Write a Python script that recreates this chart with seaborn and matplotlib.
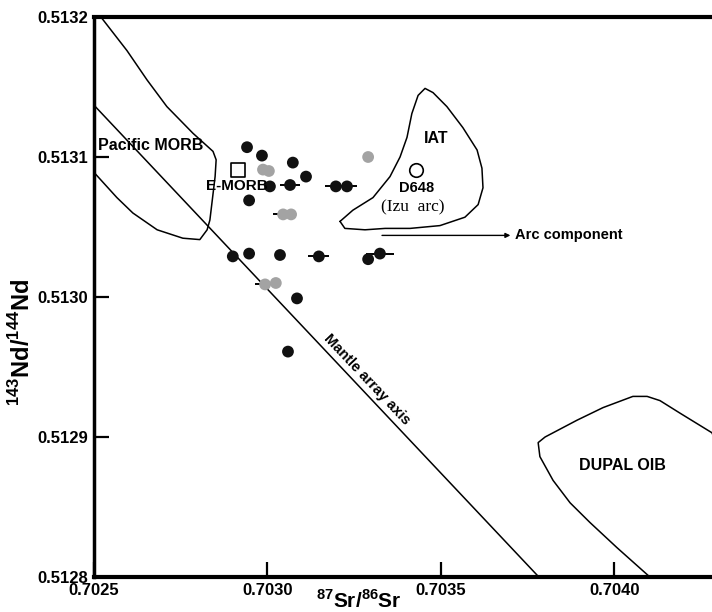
import matplotlib

matplotlib.use("Agg")
import matplotlib.pyplot as plt
import numpy as np
import pandas as pd
import seaborn as sns


# samples (87Sr/86Sr, 143Nd/144Nd)
black_sr = [0.702941, 0.702984, 0.703073, 0.703111, 0.703007, 0.703065, 0.702947, 0.703197, 0.703229,
            0.702900, 0.702947, 0.703036, 0.703148, 0.703290, 0.703324, 0.703085, 0.703059]
black_nd = [0.513107, 0.513101, 0.513096, 0.513086, 0.513079, 0.513080, 0.513069, 0.513079, 0.513079,
            0.513029, 0.513031, 0.513030, 0.513029, 0.513027, 0.513031, 0.512999, 0.512961]
gray_sr = [0.702987, 0.703004, 0.703045, 0.703068, 0.703290, 0.702993, 0.703024]
gray_nd = [0.513091, 0.513090, 0.513059, 0.513059, 0.513100, 0.513009, 0.513010]

# horizontal error bars
err_sr = [0.703065, 0.703197, 0.703229, 0.703148, 0.703324, 0.703045, 0.702993]
err_nd = [0.513080, 0.513079, 0.513079, 0.513029, 0.513031, 0.513059, 0.513009]
err_dx = [0.00003, 0.00003, 0.00003, 0.00003, 0.00004, 0.00003, 0.00003]

# reference points
emorb_sr, emorb_nd = 0.702915, 0.513091
d648_sr, d648_nd = 0.703428, 0.513091

# mantle array axis
mantle_sr = [0.70250, 0.703782]
mantle_nd = [0.513137, 0.512800]

# field outlines
morb_sr = [0.702523, 0.702595, 0.702653, 0.702710, 0.702785, 0.702843, 0.702852, 0.702849, 0.702834,
           0.702826, 0.702805, 0.702756, 0.702682, 0.702612, 0.702566, 0.702500]
morb_nd = [0.513199, 0.513176, 0.513155, 0.513136, 0.513117, 0.513104, 0.513098, 0.513086, 0.513055,
           0.513048, 0.513041, 0.513042, 0.513048, 0.513060, 0.513071, 0.513089]

iat_sr = [0.703209, 0.703223, 0.703281, 0.703339, 0.703411, 0.703497, 0.703569, 0.703607, 0.703621,
          0.703618, 0.703604, 0.703563, 0.703517, 0.703477, 0.703454, 0.703434, 0.703416, 0.703402,
          0.703382, 0.703353, 0.703304, 0.703246, 0.703209]
iat_nd = [0.513054, 0.513049, 0.513048, 0.513049, 0.513049, 0.513051, 0.513057, 0.513066, 0.513078,
          0.513092, 0.513105, 0.513121, 0.513136, 0.513146, 0.513149, 0.513144, 0.513131, 0.513114,
          0.513100, 0.513086, 0.513071, 0.513062, 0.513054]

dupal_sr = [0.704350, 0.704281, 0.704189, 0.704131, 0.704094, 0.704053, 0.703967, 0.703892, 0.703823,
            0.703800, 0.703780, 0.703785, 0.703823, 0.703872, 0.703929, 0.704007, 0.704102]
dupal_nd = [0.512860, 0.512903, 0.512917, 0.512926, 0.512929, 0.512929, 0.512921, 0.512912, 0.512903,
            0.512900, 0.512896, 0.512886, 0.512869, 0.512853, 0.512839, 0.512821, 0.512800]

x_ticks = [0.7025, 0.7030, 0.7035, 0.7040]
y_ticks = [0.5128, 0.5129, 0.5130, 0.5131, 0.5132]


def main() -> None:
    sns.set_style("white")
    plt.rcParams["font.family"] = ["Liberation Sans", "DejaVu Sans"]
    plt.rcParams["font.weight"] = "bold"
    plt.rcParams["text.color"] = "black"
    plt.rcParams["xtick.color"] = "black"
    plt.rcParams["ytick.color"] = "black"
    plt.rcParams["mathtext.fontset"] = "custom"
    plt.rcParams["mathtext.rm"] = "Liberation Sans:bold"
    plt.rcParams["mathtext.bf"] = "Liberation Sans:bold"

    fig = plt.figure(figsize=(7.12, 6.12), dpi=100)
    ax = fig.add_axes([94 / 712, 35 / 612, 618 / 712, 560 / 612])
    ax.set_xlim(0.7025, 0.704281)
    ax.set_ylim(0.5128, 0.5132)

    line_kw = dict(color="black", lw=1.1, solid_capstyle="round")
    ax.plot(morb_sr, morb_nd, **line_kw)
    ax.plot(iat_sr, iat_nd, **line_kw)
    ax.plot(dupal_sr, dupal_nd, **line_kw)
    ax.plot(mantle_sr, mantle_nd, **line_kw)

    ax.errorbar(err_sr, err_nd, xerr=err_dx, fmt="none", ecolor="black", elinewidth=1.4, capsize=0, zorder=2)

    samples = pd.DataFrame({
        "sr": black_sr + gray_sr,
        "nd": black_nd + gray_nd,
        "kind": ["black"] * len(black_sr) + ["gray"] * len(gray_sr),
    })
    sns.scatterplot(data=samples, x="sr", y="nd", hue="kind", palette={"black": "#111111", "gray": "#a3a3a3"},
                    s=72, linewidth=0, legend=False, ax=ax, zorder=3)
    ax.scatter([emorb_sr], [emorb_nd], marker="s", s=110, facecolor="white", edgecolor="black", lw=1.2, zorder=4)
    ax.scatter([d648_sr], [d648_nd], marker="o", s=95, facecolor="white", edgecolor="black", lw=1.2, zorder=4)

    ax.text(0.702512, 0.513108, "Pacific MORB", fontsize=11.5, ha="left", va="center")
    ax.text(0.702823, 0.513079, "E-MORB", fontsize=11, ha="left", va="center")
    ax.text(0.703450, 0.513113, "IAT", fontsize=11.5, ha="left", va="center")
    ax.text(0.703430, 0.513078, "D648", fontsize=10.5, ha="center", va="center")
    ax.text(0.703420, 0.513064, "(Izu  arc)", fontsize=12.5, family="Liberation Serif", fontweight="normal",
            ha="center", va="center")
    ax.text(0.704022, 0.512880, "DUPAL OIB", fontsize=11.5, ha="center", va="center")

    ax.annotate("", xy=(0.70370, 0.513044), xytext=(0.70333, 0.513044),
                arrowprops=dict(arrowstyle="-|>", lw=1.0, color="black", mutation_scale=7, shrinkA=0, shrinkB=0))
    ax.text(0.703712, 0.513044, "Arc component", fontsize=10.5, ha="left", va="center")

    p1 = ax.transData.transform((mantle_sr[0], mantle_nd[0]))
    p2 = ax.transData.transform((mantle_sr[1], mantle_nd[1]))
    angle = np.degrees(np.arctan2(p2[1] - p1[1], p2[0] - p1[0]))
    ax.text(0.703287, 0.512941, "Mantle array axis", fontsize=10.5, rotation=angle,
            rotation_mode="anchor", ha="center", va="center")

    ax.set_xticks(x_ticks)
    ax.set_yticks(y_ticks)
    ax.set_xticklabels([f"{v:.4f}" for v in x_ticks])
    ax.set_yticklabels([f"{v:.4f}" for v in y_ticks])
    ax.tick_params(direction="in", length=11, width=1.6, bottom=True, left=True, top=False, right=False,
                   labelsize=12, pad=4, color="black", labelcolor="black")
    ax.set_xlabel("")
    ax.set_ylabel("")

    ax.spines["right"].set_visible(False)
    ax.spines["top"].set_linewidth(3)
    ax.spines["bottom"].set_linewidth(3)
    ax.spines["left"].set_linewidth(2.5)
    for side in ["top", "bottom", "left"]:
        ax.spines[side].set_color("black")

    fig.text(359 / 712, 1 - 600 / 612, r"$^{87}$Sr/$^{86}$Sr", fontsize=15, ha="center", va="center")
    fig.text(22 / 712, 1 - 342 / 612, r"$^{143}$Nd/$^{144}$Nd", fontsize=17, rotation=90,
             ha="center", va="center")

    fig.savefig("out.png", dpi=100)
    plt.close(fig)


if __name__ == "__main__":
    main()
